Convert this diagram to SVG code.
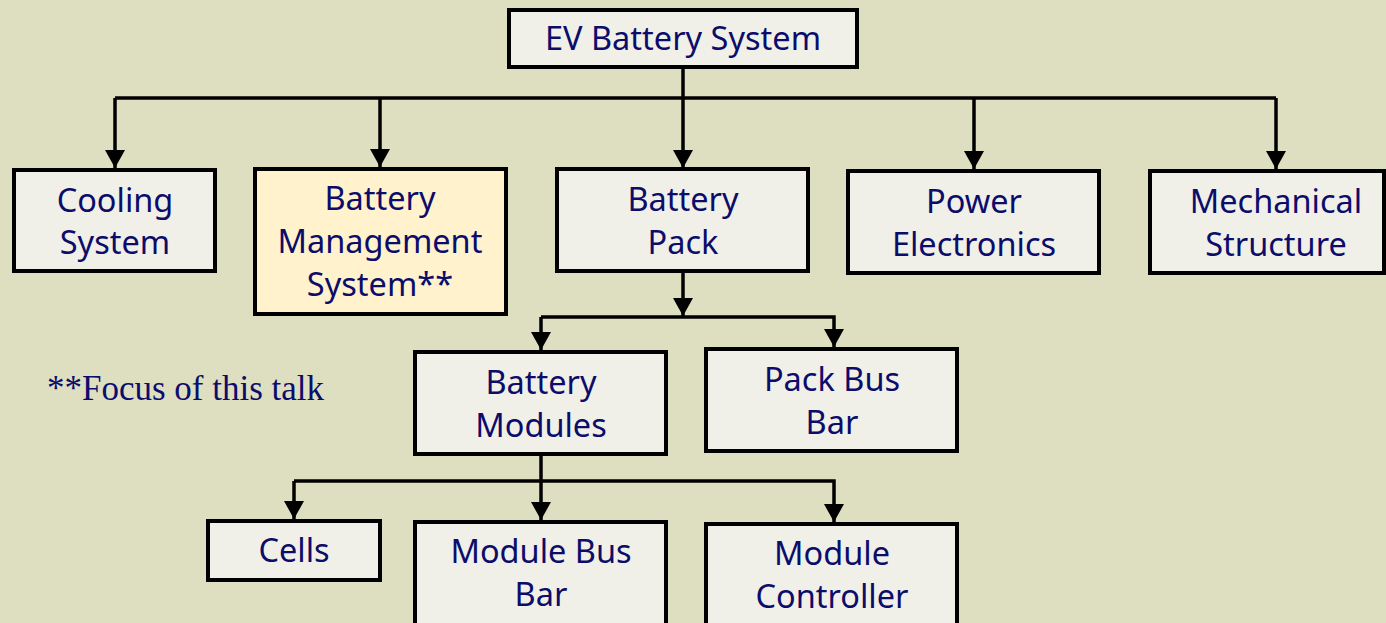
<svg xmlns="http://www.w3.org/2000/svg" width="1386" height="623" viewBox="0 0 1386 623">
<style>
.box{fill:#F0F0E8;stroke:#000;stroke-width:4}
.hl{fill:#FFF2CC}
.t{font-family:"Noto Sans","Liberation Sans",sans-serif;font-size:32.5px;fill:#0C0C6B;text-anchor:middle}
.c{fill:none;stroke:#000;stroke-width:3.5}
.note{font-family:"Liberation Serif","Times New Roman",serif;font-size:35px;fill:#0C0C6B}
</style>
<defs>
<marker id="ah" markerUnits="userSpaceOnUse" viewBox="0 0 18 20" refX="18" refY="10" markerWidth="18" markerHeight="20" orient="auto">
<path d="M0,0 L18,10 L0,20 z" fill="#000"/>
</marker>
</defs>
<rect width="1386" height="623" fill="#DEDFC1"/>
<g id="connectors">
<path class="c" d="M115,98 H1276"/>
<path class="c" d="M683,67 V168" marker-end="url(#ah)"/>
<path class="c" d="M115,98 V168" marker-end="url(#ah)"/>
<path class="c" d="M380,98 V167" marker-end="url(#ah)"/>
<path class="c" d="M974,98 V169" marker-end="url(#ah)"/>
<path class="c" d="M1276,98 V169" marker-end="url(#ah)"/>
<path class="c" d="M683,271 V316" marker-end="url(#ah)"/>
<path class="c" d="M541,317 H834 V347" marker-end="url(#ah)"/>
<path class="c" d="M541,317 V350" marker-end="url(#ah)"/>
<path class="c" d="M541,454 V520" marker-end="url(#ah)"/>
<path class="c" d="M294,481 H834 V522" marker-end="url(#ah)"/>
<path class="c" d="M294,481 V519" marker-end="url(#ah)"/>
</g>
<g id="ev">
<rect class="box" x="509" y="10" width="348" height="57"/>
<text class="t" x="683" y="50">EV Battery System</text>
</g>
<g id="cooling">
<rect class="box" x="14" y="170" width="201" height="101"/>
<text class="t" x="115" y="212">Cooling</text>
<text class="t" x="115" y="254">System</text>
</g>
<g id="bms">
<rect class="box hl" x="255" y="169" width="251" height="145"/>
<text class="t" x="380" y="210">Battery</text>
<text class="t" x="380" y="253">Management</text>
<text class="t" x="380" y="296">System**</text>
</g>
<g id="pack">
<rect class="box" x="557" y="169" width="251" height="102"/>
<text class="t" x="683" y="211">Battery</text>
<text class="t" x="683" y="254">Pack</text>
</g>
<g id="power">
<rect class="box" x="848" y="171" width="251" height="102"/>
<text class="t" x="974" y="213">Power</text>
<text class="t" x="974" y="256">Electronics</text>
</g>
<g id="mech">
<rect class="box" x="1150" y="171" width="234" height="102"/>
<text class="t" x="1276" y="213">Mechanical</text>
<text class="t" x="1276" y="256">Structure</text>
</g>
<g id="modules">
<rect class="box" x="415" y="352" width="251" height="102"/>
<text class="t" x="541" y="394">Battery</text>
<text class="t" x="541" y="437">Modules</text>
</g>
<g id="packbus">
<rect class="box" x="706" y="349" width="251" height="102"/>
<text class="t" x="832" y="391">Pack Bus</text>
<text class="t" x="832" y="434">Bar</text>
</g>
<g id="cells">
<rect class="box" x="208" y="521" width="172" height="59"/>
<text class="t" x="294" y="562">Cells</text>
</g>
<g id="modbus">
<rect class="box" x="415" y="522" width="251" height="110"/>
<text class="t" x="541" y="563">Module Bus</text>
<text class="t" x="541" y="606">Bar</text>
</g>
<g id="modctrl">
<rect class="box" x="706" y="524" width="251" height="110"/>
<text class="t" x="832" y="565">Module</text>
<text class="t" x="832" y="608">Controller</text>
</g>
<text class="note" x="47" y="400">**Focus of this talk</text>
</svg>
